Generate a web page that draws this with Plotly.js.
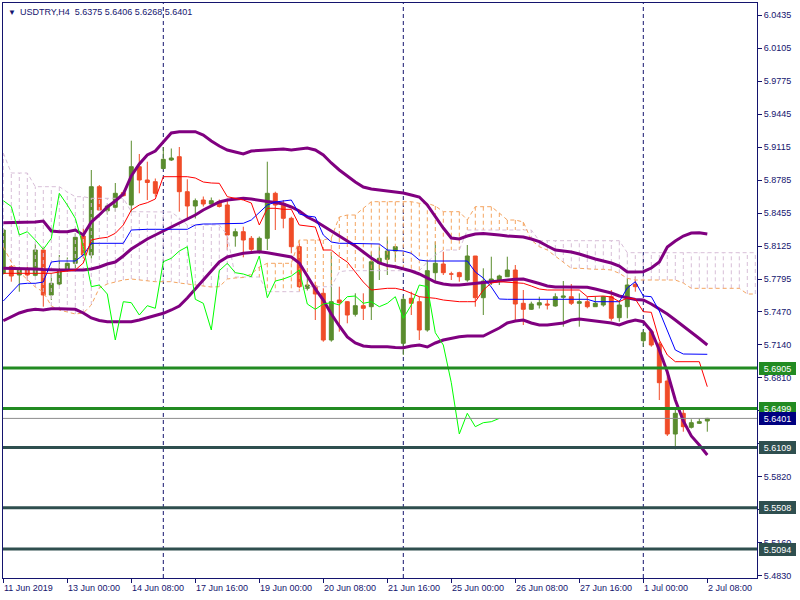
<!DOCTYPE html>
<html>
<head>
<meta charset="utf-8">
<script src="https://cdn.plot.ly/plotly-3.0.1.min.js"></script>
<style>html,body{margin:0;padding:0;background:#fff;}#chart{width:800px;height:600px;}</style>
</head>
<body>
<div id="chart"></div>
<script>
// ---------- data (USDTRY H4) ----------
const open = [5.7852,5.7918,5.7835,5.7885,5.7832,5.8085,5.7635,5.7745,5.7880,5.7952,
5.8225,5.8035,5.8718,5.8477,5.8512,5.8658,5.8535,5.8918,5.8785,5.8768,
5.8900,5.8985,5.9018,5.8668,5.8525,5.8585,5.8545,5.8570,5.8535,5.8225,
5.8268,5.8202,5.8078,5.8202,5.8652,5.8552,5.8402,5.8118,5.7702,5.7725,
5.7652,5.7185,5.7585,5.7568,5.7442,5.7528,5.7518,5.7952,5.7992,5.8075,
5.7152,5.7602,5.7568,5.7285,5.7858,5.7945,5.7845,5.7858,5.7785,5.8025,
5.7608,5.7768,5.7778,5.7818,5.7885,5.7552,5.7492,5.7535,5.7545,5.7525,
5.7612,5.7618,5.7552,5.7568,5.7518,5.7535,5.7618,5.7408,5.7518,5.7742,
5.7178,5.7268,5.7145,5.6775,5.6245,5.6452,5.6312,5.6352,5.6375];
const high = [5.8300,5.7935,5.7918,5.7918,5.8145,5.8118,5.7852,5.8035,5.8010,5.8252,
5.8300,5.8885,5.8735,5.8550,5.8755,5.8680,5.9178,5.9045,5.8968,5.8800,
5.9115,5.9100,5.9115,5.8792,5.8600,5.8620,5.8610,5.8590,5.8600,5.8300,
5.8318,5.8225,5.8220,5.8968,5.8668,5.8585,5.8418,5.8152,5.7800,5.7768,
5.7702,5.8068,5.7718,5.7575,5.7652,5.7652,5.8068,5.8118,5.8218,5.8120,
5.7625,5.7668,5.7618,5.7985,5.8168,5.8068,5.7868,5.7868,5.8135,5.8025,
5.7902,5.8018,5.7838,5.8018,5.7935,5.7685,5.7568,5.7618,5.7585,5.7652,
5.7775,5.7745,5.7652,5.7618,5.7618,5.7625,5.7685,5.7585,5.7802,5.7818,
5.7285,5.7285,5.7168,5.6885,5.6485,5.6492,5.6392,5.6402,5.6406];
const low = [5.7840,5.7768,5.7668,5.7778,5.7820,5.7518,5.7585,5.7730,5.7870,5.7900,
5.8000,5.8000,5.8480,5.8440,5.8468,5.8620,5.8468,5.8652,5.8585,5.8618,
5.8890,5.8975,5.8468,5.8402,5.8400,5.8520,5.8535,5.8510,5.8085,5.8118,
5.8012,5.8052,5.8050,5.8085,5.8285,5.8302,5.8052,5.7702,5.7680,5.7385,
5.7168,5.7168,5.7268,5.7352,5.7420,5.7385,5.7385,5.7785,5.7835,5.7968,
5.7035,5.7435,5.7185,5.7268,5.7768,5.7835,5.7785,5.7768,5.7768,5.7518,
5.7435,5.7735,5.7735,5.7818,5.7368,5.7335,5.7485,5.7500,5.7490,5.7518,
5.7318,5.7535,5.7318,5.7502,5.7518,5.7518,5.7378,5.7368,5.7402,5.7668,
5.7118,5.7118,5.6585,5.6225,5.6092,5.6268,5.6300,5.6345,5.6268];
const close = [5.8285,5.7825,5.7892,5.7835,5.8085,5.7635,5.7752,5.7885,5.7952,5.8212,
5.8035,5.8718,5.8485,5.8525,5.8652,5.8628,5.8918,5.8785,5.8760,5.8652,
5.8992,5.9005,5.8668,5.8525,5.8578,5.8545,5.8578,5.8520,5.8235,5.8268,
5.8185,5.8092,5.8202,5.8652,5.8535,5.8402,5.8118,5.7718,5.7735,5.7645,
5.7185,5.7568,5.7558,5.7435,5.7528,5.7502,5.7968,5.8002,5.8075,5.8118,
5.7592,5.7552,5.7285,5.7878,5.7952,5.7858,5.7845,5.7818,5.8025,5.7608,
5.7775,5.7795,5.7825,5.7885,5.7545,5.7492,5.7545,5.7558,5.7535,5.7618,
5.7625,5.7552,5.7568,5.7518,5.7552,5.7618,5.7402,5.7535,5.7735,5.7718,
5.7258,5.7135,5.6758,5.6245,5.6452,5.6318,5.6358,5.6368,5.6401];

// Bollinger bands
const bbUpper = [5.8358,5.8358,5.8358,5.8358,5.8365,5.8375,5.8275,5.8268,5.8268,5.8285,
5.8235,5.8365,5.8435,5.8515,5.8575,5.8645,5.8825,5.8945,5.9035,5.9075,
5.9165,5.9255,5.9268,5.9268,5.9268,5.9235,5.9175,5.9125,5.9085,5.9065,
5.9045,5.9075,5.9080,5.9085,5.9085,5.9095,5.9085,5.9095,5.9105,5.9085,
5.9035,5.8955,5.8885,5.8825,5.8765,5.8715,5.8695,5.8685,5.8675,5.8668,
5.8655,5.8635,5.8615,5.8535,5.8415,5.8305,5.8205,5.8195,5.8225,5.8245,
5.8250,5.8245,5.8235,5.8225,5.8218,5.8215,5.8195,5.8168,5.8125,5.8085,
5.8075,5.8065,5.8045,5.8018,5.7995,5.7975,5.7955,5.7925,5.7865,5.7865,
5.7868,5.7905,5.7965,5.8115,5.8175,5.8225,5.8255,5.8258,5.8245];
const bbMiddle = [5.7902,5.7902,5.7900,5.7895,5.7895,5.7890,5.7885,5.7885,5.7885,5.7885,
5.7885,5.7895,5.7915,5.7945,5.7965,5.8025,5.8095,5.8145,5.8195,5.8235,
5.8275,5.8315,5.8355,5.8395,5.8435,5.8485,5.8525,5.8565,5.8585,5.8595,
5.8602,5.8595,5.8580,5.8570,5.8560,5.8545,5.8515,5.8475,5.8415,5.8375,
5.8325,5.8275,5.8225,5.8175,5.8125,5.8065,5.8005,5.7955,5.7930,5.7918,
5.7900,5.7875,5.7845,5.7805,5.7765,5.7745,5.7735,5.7735,5.7745,5.7755,
5.7765,5.7768,5.7775,5.7785,5.7792,5.7795,5.7775,5.7750,5.7725,5.7715,
5.7715,5.7715,5.7715,5.7712,5.7695,5.7675,5.7655,5.7625,5.7605,5.7590,
5.7585,5.7545,5.7495,5.7445,5.7385,5.7325,5.7265,5.7200,5.7135];
const bbLower = [5.7378,5.7415,5.7455,5.7480,5.7492,5.7485,5.7498,5.7498,5.7495,5.7492,
5.7455,5.7405,5.7380,5.7368,5.7368,5.7368,5.7368,5.7385,5.7405,5.7425,
5.7452,5.7485,5.7525,5.7605,5.7695,5.7775,5.7875,5.7965,5.8015,5.8035,
5.8052,5.8060,5.8068,5.8058,5.8045,5.8035,5.8015,5.7955,5.7825,5.7695,
5.7585,5.7445,5.7325,5.7215,5.7155,5.7125,5.7118,5.7118,5.7118,5.7110,
5.7108,5.7125,5.7135,5.7115,5.7155,5.7185,5.7205,5.7218,5.7225,5.7225,
5.7225,5.7265,5.7305,5.7355,5.7375,5.7385,5.7355,5.7335,5.7335,5.7345,
5.7355,5.7385,5.7395,5.7385,5.7375,5.7368,5.7355,5.7335,5.7365,5.7385,
5.7368,5.7275,5.7085,5.6865,5.6585,5.6375,5.6225,5.6135,5.6035];

// Ichimoku
const tenkan = [5.7852,5.7852,5.7852,5.7852,5.7852,5.7852,5.7852,5.7865,5.7875,5.7885,
5.7955,5.8185,5.8202,5.8212,5.8252,5.8335,5.8485,5.8535,5.8558,5.8595,
5.8818,5.8818,5.8818,5.8818,5.8805,5.8765,5.8755,5.8752,5.8618,5.8602,
5.8585,5.8555,5.8335,5.8502,5.8502,5.8492,5.8492,5.8335,5.8325,5.8315,
5.8085,5.8085,5.8018,5.7965,5.7865,5.7765,5.7685,5.7695,5.7702,5.7702,
5.7685,5.7652,5.7618,5.7610,5.7602,5.7585,5.7575,5.7568,5.7568,5.7568,
5.7685,5.7755,5.7768,5.7765,5.7755,5.7752,5.7725,5.7695,5.7685,5.7685,
5.7685,5.7685,5.7685,5.7618,5.7622,5.7625,5.7615,5.7568,5.7605,5.7595,
5.7468,5.7462,5.7185,5.7035,5.6968,5.6968,5.6968,5.6968,5.6718];
const kijun = [5.7575,5.7655,5.7745,5.7752,5.7752,5.7765,5.7965,5.7975,5.7975,5.7975,
5.8035,5.8152,5.8152,5.8152,5.8152,5.8152,5.8285,5.8292,5.8292,5.8292,
5.8292,5.8292,5.8292,5.8292,5.8335,5.8345,5.8345,5.8345,5.8345,5.8345,
5.8352,5.8385,5.8465,5.8535,5.8565,5.8578,5.8585,5.8445,5.8425,5.8415,
5.8235,5.8165,5.8152,5.8152,5.8152,5.8152,5.8152,5.8145,5.8085,5.8080,
5.8075,5.8052,5.7985,5.7975,5.7975,5.7975,5.7975,5.7975,5.7975,5.7865,
5.7805,5.7715,5.7595,5.7592,5.7592,5.7592,5.7592,5.7592,5.7592,5.7592,
5.7592,5.7592,5.7592,5.7592,5.7568,5.7568,5.7568,5.7568,5.7705,5.7768,
5.7625,5.7618,5.7475,5.7285,5.7085,5.7045,5.7042,5.7042,5.7042];
// Senkou spans, bars 0..94 (cloud runs past the last candle)
const spanA = [5.8115,5.7965,5.7865,5.7785,5.7715,5.7665,5.7525,5.7485,5.7465,5.7445,
5.7455,5.7535,5.7705,5.7745,5.7765,5.7785,5.7795,5.7785,5.7775,5.7768,
5.7768,5.7768,5.7755,5.7745,5.7735,5.7725,5.7715,5.7718,5.7795,5.7805,
5.7810,5.7845,5.7915,5.7952,5.7952,5.7952,5.7952,5.8185,5.8185,5.8185,
5.8185,5.8205,5.8415,5.8435,5.8435,5.8502,5.8568,5.8568,5.8568,5.8568,
5.8568,5.8568,5.8552,5.8552,5.8525,5.8468,5.8468,5.8468,5.8385,5.8518,
5.8518,5.8518,5.8455,5.8385,5.8385,5.8365,5.8185,5.8118,5.8085,5.8025,
5.7965,5.7902,5.7902,5.7895,5.7892,5.7892,5.7885,5.7852,5.7802,5.7785,
5.7785,5.7785,5.7785,5.7785,5.7785,5.7755,5.7702,5.7702,5.7702,5.7702,
5.7702,5.7702,5.7702,5.7645,5.7645];
const spanB = [5.9055,5.8855,5.8855,5.8855,5.8718,5.8718,5.8718,5.8718,5.8665,5.8618,
5.8618,5.8602,5.8602,5.8602,5.8602,5.8602,5.8468,5.8468,5.8468,5.8468,
5.8468,5.8465,5.8405,5.8335,5.8335,5.8335,5.8335,5.8335,5.8235,5.7815,
5.7815,5.7815,5.7815,5.7668,5.7668,5.7668,5.7668,5.7668,5.7718,5.7718,
5.7718,5.7718,5.7868,5.7878,5.7878,5.7878,5.7878,5.7878,5.7878,5.7878,
5.7878,5.7878,5.7878,5.7965,5.8035,5.8085,5.8085,5.8085,5.8285,5.8285,
5.8285,5.8285,5.8285,5.8285,5.8285,5.8285,5.8285,5.8178,5.8178,5.8178,
5.8178,5.8178,5.8178,5.8178,5.8178,5.8178,5.8178,5.8178,5.8058,5.8058,
5.8058,5.8058,5.8058,5.8058,5.8058,5.8058,5.8058,5.8058,5.8058,5.8058,
5.8058,5.8058,5.8058,5.8058,5.8058];
const chikouShift = 26; // chikou span = close plotted 26 bars back

// horizontal levels and axis labels
const levels = [5.6905, 5.6499, 5.6109, 5.5508, 5.5094];
const levelColors = ['#228B22','#228B22','#2F4F4F','#2F4F4F','#2F4F4F'];
const lastPrice = 5.6401;
const separators = [20, 50, 80];
const yTicks = [6.0435,6.0105,5.9775,5.9445,5.9115,5.8785,5.8455,5.8125,5.7795,5.7470,
5.7140,5.6810,5.6480,5.6150,5.5820,5.5490,5.5160,5.4830];
const yTicksHidden = [5.6480, 5.5490]; // fully covered by level labels in the original
const xTickIdx = [0,8,16,24,32,40,48,56,64,72,80,88];
const xTickLabels = ['11 Jun 2019','13 Jun 00:00','14 Jun 08:00','17 Jun 16:00','19 Jun 00:00',
'20 Jun 08:00','21 Jun 16:00','25 Jun 00:00','26 Jun 08:00','27 Jun 16:00','1 Jul 00:00','2 Jul 08:00'];
const titleText = 'USDTRY,H4  5.6375 5.6406 5.6268 5.6401';

// ---------- build ----------
const NAVY = '#14146e';
const GREEN = '#5a8c2e';
const RED = '#f04c28';
const FONT = 'Liberation Sans, Arial, sans-serif';

const idx = open.map((_, i) => i);
const cloudIdx = spanA.map((_, i) => i);
const chikouX = idx.slice(0, close.length - chikouShift);
const chikouY = close.slice(chikouShift);

// cloud hatching
const hatchA = {x: [], y: []}, hatchB = {x: [], y: []};
cloudIdx.forEach(i => {
  const t = spanA[i] >= spanB[i] ? hatchA : hatchB;
  t.x.push(i, i, null);
  t.y.push(spanA[i], spanB[i], null);
});

const traces = [
  {type:'scatter', mode:'lines', x:hatchB.x, y:hatchB.y, line:{color:'#D8BFD8', width:1, dash:'4px,3px'}, hoverinfo:'skip'},
  {type:'scatter', mode:'lines', x:hatchA.x, y:hatchA.y, line:{color:'#F4A460', width:1, dash:'4px,3px'}, hoverinfo:'skip'},
  {type:'scatter', mode:'lines', x:cloudIdx, y:spanB, line:{color:'#D8BFD8', width:1, dash:'4px,3px'}, hoverinfo:'skip'},
  {type:'scatter', mode:'lines', x:cloudIdx, y:spanA, line:{color:'#F4A460', width:1, dash:'4px,3px'}, hoverinfo:'skip'},
  {type:'candlestick', x:idx, open:open, high:high, low:low, close:close,
   increasing:{line:{color:GREEN, width:1}, fillcolor:GREEN},
   decreasing:{line:{color:RED, width:1}, fillcolor:RED},
   whiskerwidth:0, hoverinfo:'skip'},
  {type:'scatter', mode:'lines', x:idx, y:bbUpper, line:{color:'#800080', width:3}, hoverinfo:'skip'},
  {type:'scatter', mode:'lines', x:idx, y:bbMiddle, line:{color:'#800080', width:3}, hoverinfo:'skip'},
  {type:'scatter', mode:'lines', x:idx, y:bbLower, line:{color:'#800080', width:3}, hoverinfo:'skip'},
  {type:'scatter', mode:'lines', x:idx, y:kijun, line:{color:'#0000FF', width:1}, hoverinfo:'skip'},
  {type:'scatter', mode:'lines', x:idx, y:tenkan, line:{color:'#FF0000', width:1}, hoverinfo:'skip'},
  {type:'scatter', mode:'lines', x:chikouX, y:chikouY, line:{color:'#00FF00', width:1}, hoverinfo:'skip'}
];

const shapes = [];
separators.forEach(s => shapes.push({type:'line', xref:'x', yref:'paper', x0:s, x1:s, y0:0, y1:1,
  line:{color:NAVY, width:1, dash:'4px,3px'}, layer:'below'}));
shapes.push({type:'line', xref:'paper', yref:'y', x0:0, x1:1, y0:lastPrice, y1:lastPrice,
  line:{color:'#8c8c8c', width:1}, layer:'above'});
levels.forEach((v, k) => shapes.push({type:'line', xref:'paper', yref:'y', x0:0, x1:1, y0:v, y1:v,
  line:{color:levelColors[k], width:3}, layer:'above'}));

const annotations = [];
annotations.push({xref:'paper', yref:'paper', x:0, y:1, xanchor:'left', yanchor:'top', xshift:3, yshift:-3,
  text:'▼', showarrow:false, font:{family:FONT, size:8, color:NAVY}});
annotations.push({xref:'paper', yref:'paper', x:0, y:1, xanchor:'left', yanchor:'top', xshift:15, yshift:-2,
  text:titleText.replace(/ /g,'&nbsp;'), showarrow:false, font:{family:FONT, size:9, color:NAVY}});
xTickIdx.forEach((t, k) => annotations.push({xref:'x', yref:'paper', x:t, y:0, xanchor:'left', yanchor:'top',
  xshift:-1, yshift:-3, text:xTickLabels[k], showarrow:false, font:{family:FONT, size:9, color:NAVY}}));
const labelVals = levels.concat([lastPrice]);
const labelCols = levelColors.concat(['#000080']);
labelVals.forEach((v, k) => annotations.push({xref:'paper', yref:'y', x:1, y:v, xanchor:'left', yanchor:'middle',
  xshift:2, text:v.toFixed(4), showarrow:false, bgcolor:labelCols[k], bordercolor:labelCols[k], borderpad:1,
  width:33, height:9, align:'center', font:{family:FONT, size:9, color:'#ffffff'}}));

const layout = {
  width:800, height:600,
  margin:{l:3, r:43, t:3, b:22, pad:0},
  paper_bgcolor:'#ffffff', plot_bgcolor:'#ffffff',
  showlegend:false, hovermode:false,
  xaxis:{range:[-0.0375, 94.2125], showgrid:false, zeroline:false, showline:true, mirror:true,
    linecolor:NAVY, linewidth:1, ticks:'outside', ticklen:4, tickcolor:NAVY, tickvals:xTickIdx,
    showticklabels:false, rangeslider:{visible:false}, fixedrange:true},
  yaxis:{range:[5.4805, 6.0555], side:'right', showgrid:false, zeroline:false, showline:true, mirror:true,
    linecolor:NAVY, linewidth:1, ticks:'outside', ticklen:4, tickcolor:NAVY,
    tickvals:yTicks, ticktext:yTicks.map(v => yTicksHidden.includes(v) ? '' : v.toFixed(4)),
    tickfont:{family:FONT, size:9, color:NAVY}, fixedrange:true},
  shapes:shapes, annotations:annotations
};

Plotly.newPlot('chart', traces, layout, {staticPlot:true, displayModeBar:false});
</script>
</body>
</html>
